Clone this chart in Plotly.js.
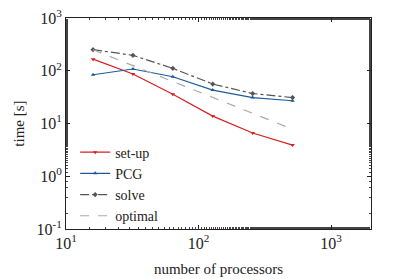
<!DOCTYPE html>
<html><head><meta charset="utf-8">
<script src="https://cdn.plot.ly/plotly-3.0.1.min.js"></script>
<style>html,body{margin:0;padding:0;background:#fff}#plot{width:399px;height:279px}</style>
</head><body><div id="plot"></div>
<script>
const procs = [16, 32, 64, 128, 256, 512];
const setup = [166, 87, 36, 13.8, 6.6, 3.9];
const pcg = [84, 108, 77, 43, 31, 27];
const solve = [251, 196, 111, 56, 37, 31];
const optimal = [250, 125, 62.5, 31.25, 15.6, 7.8];
const xTickVals = [10, 100, 1000];
const xTickText = ['10<sup>1</sup>', '10<sup>2</sup>', '10<sup>3</sup>'];
const yTickVals = [0.1, 1, 10, 100, 1000];
const yTickText = ['10<sup>-1</sup>', '10<sup>0</sup>', '10<sup>1</sup>', '10<sup>2</sup>', '10<sup>3</sup>'];

const fam = "'Liberation Serif', 'DejaVu Serif', serif";
const font = {family: fam, size: 15, color: '#222'};
const tickFont = {family: fam, size: 16, color: '#222'};
const traces = [
  {x: procs, y: setup, name: 'set-up', mode: 'lines+markers',
   line: {color: '#d62020', width: 1.2}, marker: {symbol: 'triangle-down', size: 4, color: '#d62020'}},
  {x: procs, y: pcg, name: 'PCG', mode: 'lines+markers',
   line: {color: '#1f5b99', width: 1.2}, marker: {symbol: 'triangle-up', size: 4, color: '#1f5b99'}},
  {x: procs, y: solve, name: 'solve', mode: 'lines+markers',
   line: {color: '#555555', width: 1.2, dash: 'dashdot'}, marker: {symbol: 'diamond', size: 4, color: '#555555'}},
  {x: procs, y: optimal, name: 'optimal', mode: 'lines',
   line: {color: '#aaaaaa', width: 1.2, dash: 'dash'}}
];
const axisCommon = {
  type: 'log', showgrid: false, zeroline: false, showline: true, linecolor: '#222', linewidth: 1,
  mirror: 'ticks', ticks: 'inside', ticklen: 4, tickcolor: '#222',
  minor: {ticks: 'inside', ticklen: 2, tickcolor: '#444'},
  tickfont: tickFont
};
const layout = {
  width: 399, height: 279,
  margin: {l: 66, r: 28, t: 18, b: 50},
  paper_bgcolor: '#fff', plot_bgcolor: '#fff',
  font: font,
  showlegend: true,
  legend: {x: 0.03, y: -0.012, xanchor: 'left', yanchor: 'bottom', bgcolor: 'rgba(0,0,0,0)',
           font: {family: fam, size: 14, color: '#222'}, tracegroupgap: 0, itemwidth: 30},
  xaxis: Object.assign({}, axisCommon, {range: [1, Math.log10(2000)], tickvals: xTickVals, ticktext: xTickText,
    title: {text: 'number of processors', font: font, standoff: 12}}),
  yaxis: Object.assign({}, axisCommon, {range: [-1, 3], tickvals: yTickVals, ticktext: yTickText,
    title: {text: 'time [s]', font: font, standoff: 8}})
};
Plotly.newPlot('plot', traces, layout, {displayModeBar: false, staticPlot: true});
</script></body></html>
